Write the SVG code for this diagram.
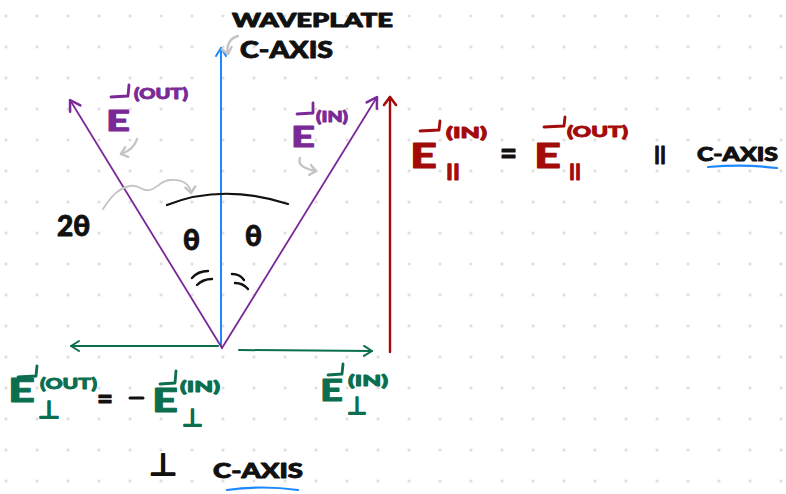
<svg xmlns="http://www.w3.org/2000/svg" width="786" height="494" viewBox="0 0 786 494">
<defs>
<style>
.t{font-family:"Lato","Liberation Sans",sans-serif;font-weight:900;stroke-width:0.9;stroke-linejoin:round}
.blk{fill:#111;stroke:#111}
.pur{fill:#7a2a96;stroke:#7a2a96}
.red{fill:#a30b0b;stroke:#a30b0b}
.grn{fill:#0b6e4f;stroke:#0b6e4f}
.ln{fill:none;stroke-linecap:round;stroke-linejoin:round}
.hp{fill:none;stroke-width:2.8;stroke-linecap:round;stroke-linejoin:round}
</style>
<pattern id="dots" x="-9.5" y="0.5" width="31" height="31" patternUnits="userSpaceOnUse">
<circle cx="15.5" cy="15.5" r="1.3" fill="#cfcfcf"/>
</pattern>
<marker id="aB" markerUnits="userSpaceOnUse" markerWidth="20" markerHeight="20" refX="0" refY="0" viewBox="-12 -10 14 20" orient="auto" overflow="visible">
<path d="M-8,-5 L0,0 L-8,5" fill="none" stroke="#1e88ff" stroke-width="2" stroke-linecap="round" stroke-linejoin="round"/>
</marker>
<marker id="aP" markerUnits="userSpaceOnUse" markerWidth="20" markerHeight="20" refX="0" refY="0" viewBox="-12 -10 14 20" orient="auto" overflow="visible">
<path d="M-10,-6 L0,0 L-10,6" fill="none" stroke="#7a2a96" stroke-width="2.5" stroke-linecap="round" stroke-linejoin="round"/>
</marker>
<marker id="aR" markerUnits="userSpaceOnUse" markerWidth="20" markerHeight="20" refX="0" refY="0" viewBox="-12 -10 14 20" orient="auto" overflow="visible">
<path d="M-8,-6 L0,0 L-8,6" fill="none" stroke="#a30b0b" stroke-width="2.6" stroke-linecap="round" stroke-linejoin="round"/>
</marker>
<marker id="aG" markerUnits="userSpaceOnUse" markerWidth="20" markerHeight="20" refX="0" refY="0" viewBox="-12 -10 14 20" orient="auto" overflow="visible">
<path d="M-8,-5 L0,0 L-8,5" fill="none" stroke="#0b6e4f" stroke-width="2" stroke-linecap="round" stroke-linejoin="round"/>
</marker>
<marker id="aY" markerUnits="userSpaceOnUse" markerWidth="20" markerHeight="20" refX="0" refY="0" viewBox="-12 -10 14 20" orient="auto" overflow="visible">
<path d="M-6,-5 L0,0 L-6,5" fill="none" stroke="#c4c4c4" stroke-width="2.4" stroke-linecap="round" stroke-linejoin="round"/>
</marker>
</defs>
<rect width="786" height="494" fill="#fff"/>
<rect width="786" height="494" fill="url(#dots)"/>

<g id="connectors">
<line class="ln" x1="221" y1="346" x2="221" y2="48" stroke="#1e88ff" stroke-width="2" marker-end="url(#aB)"/>
<line class="ln" x1="222" y1="348" x2="70" y2="100" stroke="#7a2a96" stroke-width="1.8" marker-end="url(#aP)"/>
<line class="ln" x1="222" y1="348" x2="377" y2="97" stroke="#7a2a96" stroke-width="1.8" marker-end="url(#aP)"/>
<line class="ln" x1="390" y1="352" x2="390" y2="97" stroke="#a30b0b" stroke-width="2.4" marker-end="url(#aR)"/>
<line class="ln" x1="218" y1="346" x2="71" y2="346" stroke="#0b6e4f" stroke-width="2" marker-end="url(#aG)"/>
<line class="ln" x1="239" y1="350" x2="372" y2="351" stroke="#0b6e4f" stroke-width="2" marker-end="url(#aG)"/>
<path class="ln" d="M238,36 C230,38 226,45 228,54" stroke="#c4c4c4" stroke-width="2.4" marker-end="url(#aY)"/>
<path class="ln" d="M137,139 C135,146 130,151 121,154" stroke="#c4c4c4" stroke-width="2.4" marker-end="url(#aY)"/>
<path class="ln" d="M300,158 C297,165 305,169 316,171" stroke="#c4c4c4" stroke-width="2.4" marker-end="url(#aY)"/>
<path class="ln" d="M103,209 C110,198 118,188 130,186 C140,184 142,192 150,190 C158,188 160,181 170,180 C182,179 190,184 191,193" stroke="#c4c4c4" stroke-width="1.8" marker-end="url(#aY)"/>
</g>

<g id="angle-arc">
<path class="ln" d="M167,205 Q222,183 288,204" stroke="#111" stroke-width="2.2"/>
<text class="t blk" x="183" y="250" font-size="28">θ</text>
<text class="t blk" x="245" y="246" font-size="28">θ</text>
<path class="ln" d="M192,278 Q198,271 208,271 M197,285 Q203,279 212,279" stroke="#111" stroke-width="2.4"/>
<path class="ln" d="M232,274 Q240,274 244,280 M235,283 Q243,283 248,289" stroke="#111" stroke-width="2.4"/>
</g>

<g id="label-2theta">
<text class="t blk" x="57" y="236" font-size="28">2θ</text>
</g>

<g id="label-waveplate">
<text class="t blk" x="232" y="27" font-size="18" textLength="161" lengthAdjust="spacingAndGlyphs">WAVEPLATE</text>
<text class="t blk" x="240" y="58" font-size="22" textLength="93" lengthAdjust="spacingAndGlyphs">C-AXIS</text>
</g>

<g id="label-e-out">
<path class="hp" d="M111,97 L128,96 L129,85" stroke="#7a2a96"/>
<text class="t pur" x="106" y="131" font-size="29" textLength="24" lengthAdjust="spacingAndGlyphs">E</text>
<text class="t pur" x="134" y="99" font-size="15" textLength="54" lengthAdjust="spacingAndGlyphs">(OUT)</text>
</g>

<g id="label-e-in">
<path class="hp" d="M297,114 L313,113 L313,103" stroke="#7a2a96"/>
<text class="t pur" x="291" y="147" font-size="29" textLength="24" lengthAdjust="spacingAndGlyphs">E</text>
<text class="t pur" x="316" y="122" font-size="15" textLength="32" lengthAdjust="spacingAndGlyphs">(IN)</text>
</g>

<g id="label-parallel">
<path class="hp" d="M420,131 L439,130 L440,121" stroke="#a30b0b"/>
<text class="t red" x="410" y="168" font-size="35" textLength="27" lengthAdjust="spacingAndGlyphs">E</text>
<text class="t red" x="446" y="138" font-size="15" textLength="41" lengthAdjust="spacingAndGlyphs">(IN)</text>
<text class="t red" x="446" y="177" font-size="16" textLength="14" lengthAdjust="spacingAndGlyphs">||</text>
<text class="t blk" x="500" y="164" font-size="30" textLength="17" lengthAdjust="spacingAndGlyphs">=</text>
<path class="hp" d="M544,127 L564,126 L565,117" stroke="#a30b0b"/>
<text class="t red" x="534" y="168" font-size="35" textLength="27" lengthAdjust="spacingAndGlyphs">E</text>
<text class="t red" x="567" y="137" font-size="15" textLength="61" lengthAdjust="spacingAndGlyphs">(OUT)</text>
<text class="t red" x="569" y="177" font-size="16" textLength="12" lengthAdjust="spacingAndGlyphs">||</text>
<text class="t blk" x="654" y="161" font-size="18" textLength="12" lengthAdjust="spacingAndGlyphs">||</text>
<text class="t blk" x="697" y="161" font-size="18" textLength="81" lengthAdjust="spacingAndGlyphs">C-AXIS</text>
<path class="ln" d="M708,167 Q745,164 777,168" stroke="#1e88ff" stroke-width="2.2"/>
</g>

<g id="label-perp-out">
<path class="hp" d="M18,377 L36,376 L37,366" stroke="#0b6e4f"/>
<text class="t grn" x="8" y="402" font-size="33" textLength="27" lengthAdjust="spacingAndGlyphs">E</text>
<text class="t grn" x="40" y="389" font-size="15" textLength="57" lengthAdjust="spacingAndGlyphs">(OUT)</text>
<text class="t grn" x="38" y="418" font-size="24" textLength="22" lengthAdjust="spacingAndGlyphs">⊥</text>
<text class="t blk" x="97" y="409" font-size="28" textLength="16" lengthAdjust="spacingAndGlyphs">=</text>
<path class="ln" d="M130,398 L143,398" stroke="#111" stroke-width="3"/>
<path class="hp" d="M160,384 L175,383 L176,371" stroke="#0b6e4f"/>
<text class="t grn" x="152" y="412" font-size="33" textLength="26" lengthAdjust="spacingAndGlyphs">E</text>
<text class="t grn" x="180" y="392" font-size="15" textLength="40" lengthAdjust="spacingAndGlyphs">(IN)</text>
<text class="t grn" x="182" y="426" font-size="24" textLength="21" lengthAdjust="spacingAndGlyphs">⊥</text>
</g>

<g id="label-perp-in">
<path class="hp" d="M328,375 L342,374 L343,364" stroke="#0b6e4f"/>
<text class="t grn" x="320" y="401" font-size="31" textLength="23" lengthAdjust="spacingAndGlyphs">E</text>
<text class="t grn" x="348" y="386" font-size="15" textLength="40" lengthAdjust="spacingAndGlyphs">(IN)</text>
<text class="t grn" x="347" y="414" font-size="24" textLength="20" lengthAdjust="spacingAndGlyphs">⊥</text>
</g>

<g id="label-perp-axis">
<text class="t blk" x="149" y="475" font-size="30" textLength="28" lengthAdjust="spacingAndGlyphs">⊥</text>
<text class="t blk" x="213" y="478" font-size="20" textLength="90" lengthAdjust="spacingAndGlyphs">C-AXIS</text>
<path class="ln" d="M227,490 Q262,485 298,490" stroke="#1e88ff" stroke-width="2.2"/>
</g>
</svg>
